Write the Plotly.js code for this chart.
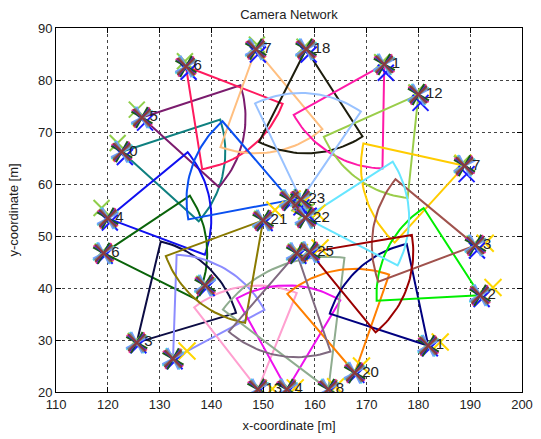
<!DOCTYPE html>
<html><head><meta charset="utf-8">
<script src="https://cdn.plot.ly/plotly-3.0.1.min.js"></script>
<style>html,body{margin:0;padding:0;background:#fff}#plot{width:541px;height:439px}</style>
</head><body><div id="plot"></div>
<script>
// Camera data (positions in metres, heading in degrees, range in metres, FOV in degrees)
const camLabels  = ["0","5","6","7","18","1","12","7","4","6","3","","13","4","8","20","1","2","3","","23","22","21","","25",""];
const camX       = [122.7,126.6,135.1,148.6,158.3,173.4,180.0,188.9,120.0,119.2,125.6,132.6,149.0,154.6,162.6,167.7,181.9,191.9,191.0,155.2,157.3,158.2,150.0,156.5,159.0,138.8];
const camY       = [66.2,72.8,82.6,85.9,85.9,83.0,77.2,63.5,53.4,46.7,29.5,26.4,20.5,20.5,20.5,23.7,28.9,38.6,48.2,56.9,57.0,53.5,53.0,46.7,46.9,40.5];
const camHeading = [-12,-12,-51,-80,-87,-121,-126,197.6,9.5,3.6,46.6,58,98,89,113,100.6,132,153,170.5,160.7,85.6,2.7,-130,-101,-20.5,null];
const camRange   = [20,20,20,20,20,20,20,20,20,20,20,20,20,20,25.5,20,20,20,20,20,20.5,20,20,20,20,20];
const camFov     = [60,60,60,60,60,60,60,60,60,60,60,60,60,60,60,60,60,60,60,60,60,60,60,60,60,60];
const wedgeColors= ["#0f8080","#7b1c6e","#ff1a5e","#ffbf80","#1c1c0c","#ff1aa8","#9acd4a","#ffcc00","#1010f0","#0a640a","#0c0c44","#8c8cff","#ffa0d0","#ee10ee","#8fac8f","#ff7f00","#000080","#00ee00","#a0524d","#0a50f0","#99c2ff","#66e6ff","#8a7a00","#806a80","#9b0000","#888888"];
// Estimated positions (yellow, green and blue estimates)
const yellowX = [122.6,126.5,135.2,148.7,158.4,173.2,179.8,188.6,120.1,119.3,125.8,135.3,151.8,156.2,164.0,169.0,184.2,194.4,192.9,155.6,157.5,160.4,152.3,157.0,161.0,139.0];
const yellowY = [66.1,72.7,82.5,85.8,85.8,83.2,77.4,64.0,53.3,46.6,29.4,27.9,20.6,20.8,21.0,25.0,29.6,40.1,48.6,57.1,56.2,54.4,55.0,46.8,47.7,40.4];
const greenX  = [121.9,125.6,134.9,148.8,158.0,173.0,179.6,188.4,118.8,119.0,125.4,132.8,149.2,154.8,162.8,167.5,181.7,191.7,190.8,155.0,157.0,158.3,149.8,156.3,158.8,138.6];
const greenY  = [67.9,74.3,83.6,86.8,86.4,83.4,77.6,63.9,55.4,47.0,29.8,26.7,20.8,20.8,20.8,24.0,29.2,38.9,48.5,57.2,56.3,54.7,53.3,47.0,47.2,40.8];
const blueX   = [123.3,127.2,135.6,149.0,158.8,173.7,180.4,189.3,120.4,119.4,125.9,132.9,149.3,154.9,162.9,168.0,182.2,192.2,191.3,155.5,157.4,158.8,150.3,156.8,159.3,139.1];
const blueY   = [65.2,71.8,81.6,84.9,84.9,81.4,75.6,61.9,52.6,46.2,29.0,25.9,20.2,20.2,20.2,23.3,28.4,37.9,47.2,56.4,55.5,53.9,52.5,46.2,46.4,40.0];
const xTicks = [110,120,130,140,150,160,170,180,190,200];
const yTicks = [20,30,40,50,60,70,80,90];

const traces = [];
// Field-of-view wedges
for (let i = 0; i < camX.length; i++) {
  if (camHeading[i] === null) continue;
  const xs = [camX[i]], ys = [camY[i]];
  const h = camHeading[i], f = camFov[i] / 2, r = camRange[i];
  for (let a = h - f; a <= h + f + 1e-9; a += 2) {
    xs.push(camX[i] + r * Math.cos(a * Math.PI / 180));
    ys.push(camY[i] + r * Math.sin(a * Math.PI / 180));
  }
  xs.push(camX[i]); ys.push(camY[i]);
  traces.push({type:'scatter', mode:'lines', x:xs, y:ys, line:{color:wedgeColors[i], width:2}, hoverinfo:'skip', showlegend:false});
}
// Estimate markers (under the clusters)
function est(xs, ys, c, size){
  traces.push({type:'scatter', mode:'markers', x:xs, y:ys, marker:{symbol:'x-thin', size:size, color:c, line:{width:2, color:c}}, hoverinfo:'skip', showlegend:false});
}
est(yellowX, yellowY, '#ffd700', 17);
est(greenX, greenY, '#8fce4a', 16);
est(blueX, blueY, '#1a1aff', 16);
// Marker clusters
const clusterColors = ["#40e0e0","#ff2a9a","#6f9fff","#1a5a1a","#a060c0","#2a2aff","#7f7f7f","#8b3a3a"];
const clusterAngles = [12,-8,18,-16,4,-4,8,0];
const clusterSizes  = [18,18,17,17,16,16,16,17];
clusterColors.forEach((c,k)=>{
  traces.push({type:'scatter', mode:'markers', x:camX, y:camY,
    marker:{symbol:'x-thin', size:clusterSizes[k], angle:clusterAngles[k], color:c, line:{width:2, color:c}}, hoverinfo:'skip', showlegend:false});
});
// Camera labels (on top)
traces.push({type:'scatter', mode:'text', x:camX, y:camY, text:camLabels.map(s=>s ? '\u2002'+s : ''), textposition:'middle right',
  textfont:{family:'Liberation Sans, Arial, sans-serif', size:15, color:'#222'}, hoverinfo:'skip', showlegend:false});

const font = {family:'Liberation Sans, Arial, sans-serif', color:'#222'};
const layout = {
  width:541, height:439,
  margin:{l:56, r:19, t:28, b:47, pad:0},
  paper_bgcolor:'#fff', plot_bgcolor:'#fff',
  title:{text:'Camera Network', font:Object.assign({size:13}, font), x:0.534, xanchor:'center', y:1-14/439, yref:'container', yanchor:'middle'},
  xaxis:{range:[110,200], tickvals:xTicks, ticktext:xTicks.map(String), ticks:'inside', ticklen:5, tickcolor:'#000',
    showline:true, linecolor:'#000', linewidth:1, mirror:'ticks', showgrid:true, gridcolor:'#444', griddash:'dot', gridwidth:1,
    zeroline:false, tickfont:Object.assign({size:13}, font), automargin:false,
    title:{text:'x-coordinate [m]', font:Object.assign({size:13}, font), standoff:10}},
  yaxis:{range:[20,90], tickvals:yTicks, ticktext:yTicks.map(String), ticks:'inside', ticklen:5, tickcolor:'#000',
    showline:true, linecolor:'#000', linewidth:1, mirror:'ticks', showgrid:true, gridcolor:'#444', griddash:'dot', gridwidth:1,
    zeroline:false, tickfont:Object.assign({size:13}, font), automargin:false,
    title:{text:'y-coordinate [m]', font:Object.assign({size:13}, font), standoff:16}},
  showlegend:false
};
Plotly.newPlot('plot', traces, layout, {displayModeBar:false, staticPlot:true});
</script></body></html>
